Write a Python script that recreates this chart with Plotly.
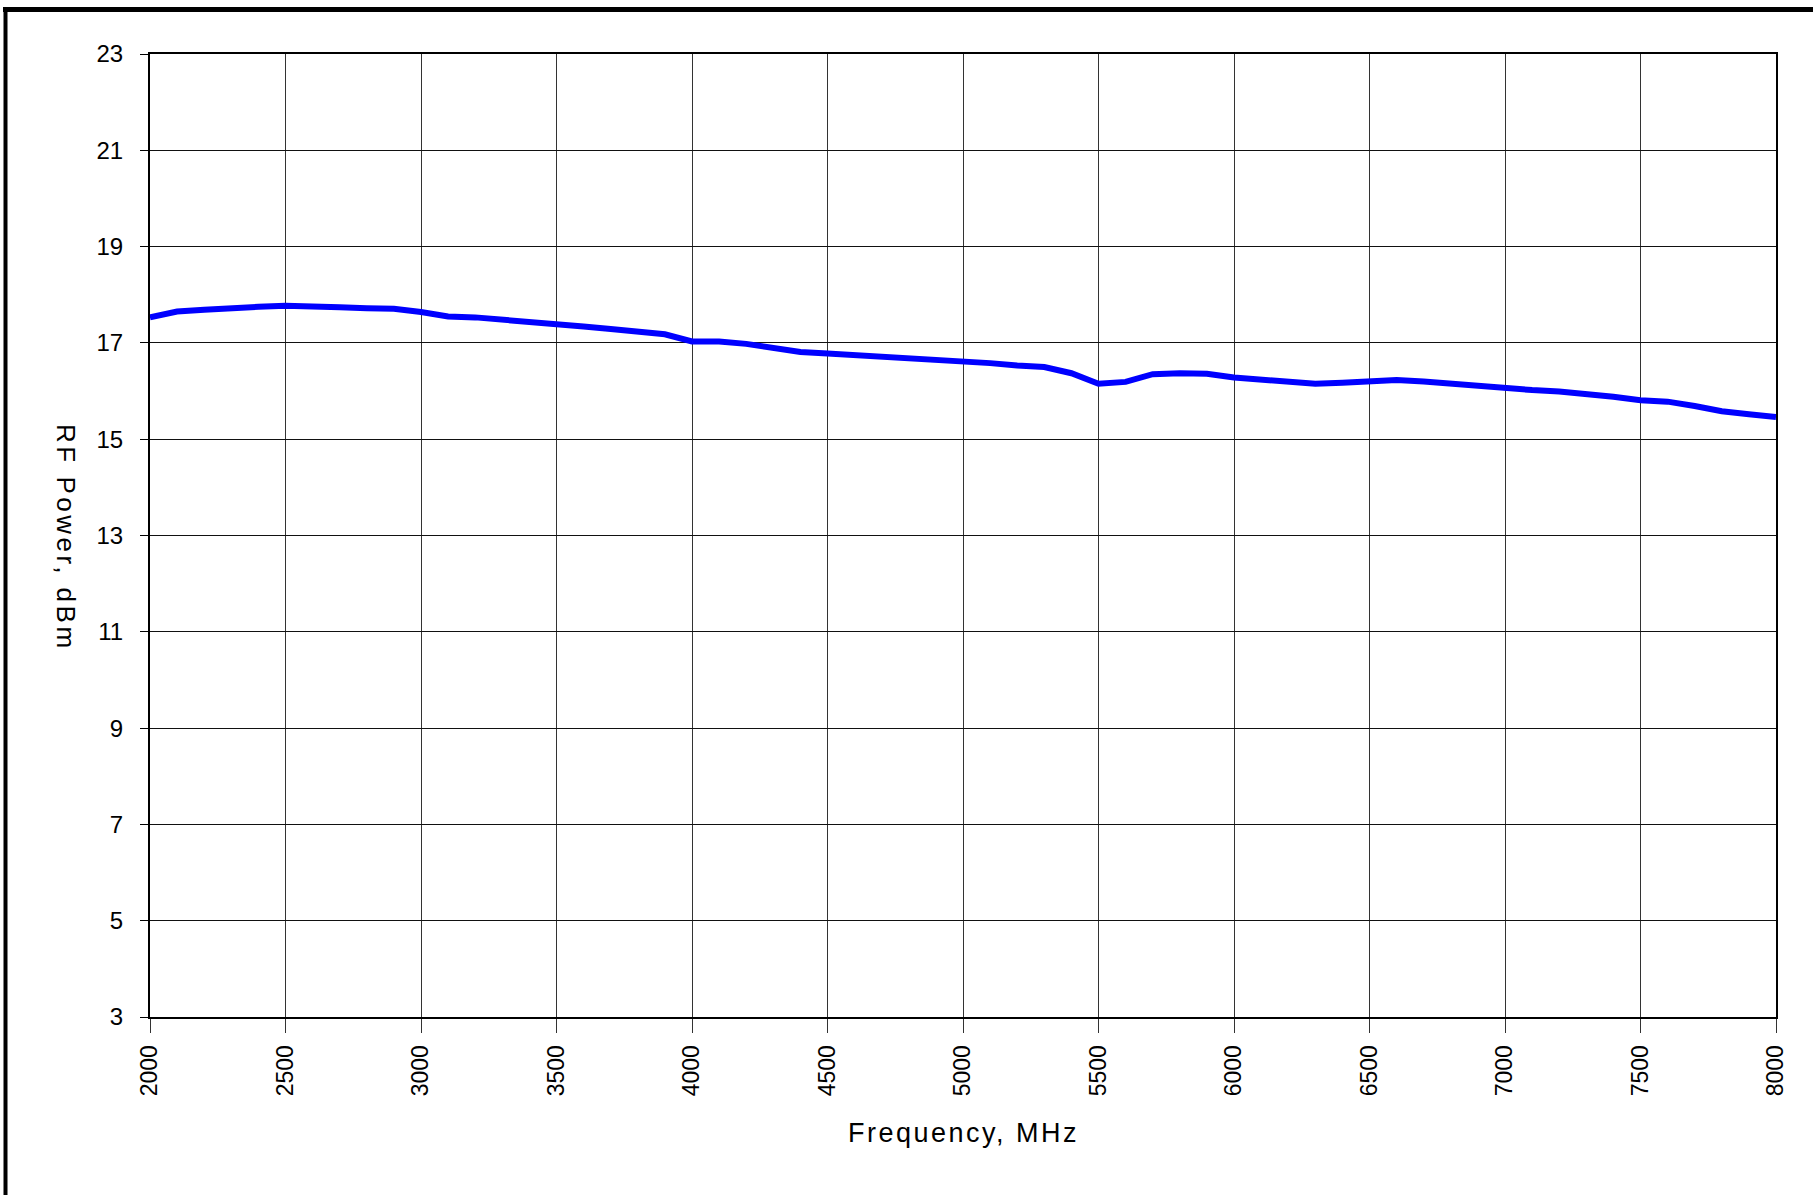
import plotly.graph_objects as go

freq_mhz = [2000, 2100, 2200, 2300, 2400, 2500, 2600, 2700, 2800, 2900,
            3000, 3100, 3200, 3300, 3400, 3500, 3600, 3700, 3800, 3900,
            4000, 4100, 4200, 4300, 4400, 4500, 4600, 4700, 4800, 4900,
            5000, 5100, 5200, 5300, 5400, 5500, 5600, 5700, 5800, 5900,
            6000, 6100, 6200, 6300, 6400, 6500, 6600, 6700, 6800, 6900,
            7000, 7100, 7200, 7300, 7400, 7500, 7600, 7700, 7800, 7900,
            8000]
rf_power_dbm = [17.53, 17.65, 17.69, 17.73, 17.75, 17.77, 17.77, 17.74, 17.72, 17.71,
                17.64, 17.55, 17.53, 17.49, 17.44, 17.39, 17.34, 17.29, 17.24, 17.18,
                17.03, 17.03, 16.98, 16.88, 16.81, 16.78, 16.75, 16.69, 16.67, 16.65,
                16.61, 16.58, 16.53, 16.50, 16.37, 16.15, 16.19, 16.35, 16.37, 16.36,
                16.28, 16.23, 16.19, 16.15, 16.17, 16.19, 16.23, 16.20, 16.15, 16.11,
                16.06, 16.02, 15.99, 15.95, 15.88, 15.81, 15.78, 15.69, 15.58, 15.52,
                15.46]
x_ticks = [2000, 2500, 3000, 3500, 4000, 4500, 5000, 5500, 6000, 6500, 7000, 7500, 8000]
y_ticks = [3, 5, 7, 9, 11, 13, 15, 17, 19, 21, 23]
x_title = "Frequency, MHz"
y_title = "RF Power, dBm"

W, H = 1813, 1195
ML, MR, MT, MB = 150, 37, 54, 178
PW, PH = W - ML - MR, H - MT - MB

def px(xp):
    return (xp - ML) / PW

def py(yp):
    return (H - MB - yp) / PH

fig = go.Figure()
fig.add_trace(go.Scatter(
    x=freq_mhz, y=rf_power_dbm, mode="lines",
    line=dict(color="#0000FF", width=6), showlegend=False,
))

FONT = "Liberation Sans, Arial, sans-serif"
fig.update_layout(
    width=W, height=H,
    margin=dict(l=ML, r=MR, t=MT, b=MB, pad=0),
    paper_bgcolor="white", plot_bgcolor="white",
    font=dict(family=FONT, color="black", size=24),
    xaxis=dict(
        range=[2000, 8000], tickvals=x_ticks, ticktext=[str(v) for v in x_ticks],
        tickangle=-90, ticks="outside", ticklen=14, tickcolor="#333", tickwidth=1,
        showgrid=True, gridcolor="#333", gridwidth=1,
        showline=True, linecolor="black", linewidth=2, mirror=True,
        zeroline=False, tickfont=dict(size=23, family=FONT),
        ticklabelstandoff=3,
    ),
    yaxis=dict(
        range=[3, 23], tickvals=y_ticks, ticktext=[str(v) for v in y_ticks],
        ticks="outside", ticklen=8, tickcolor="black", tickwidth=1,
        showgrid=True, gridcolor="#111", gridwidth=1,
        showline=True, linecolor="black", linewidth=2, mirror=True,
        zeroline=False, tickfont=dict(size=24, family=FONT),
        ticklabelstandoff=12,
    ),
    annotations=[
        dict(text='<span style="letter-spacing:2.5px">' + x_title + '</span>',
             xref="paper", yref="paper", x=px(963), y=py(1133),
             showarrow=False, font=dict(size=27, family=FONT),
             xanchor="center", yanchor="middle"),
        dict(text='<span style="letter-spacing:3.5px">' + y_title + '</span>',
             xref="paper", yref="paper", x=px(66), y=py(538),
             showarrow=False, font=dict(size=26, family=FONT), textangle=90,
             xanchor="center", yanchor="middle"),
    ],
    shapes=[
        dict(type="line", xref="paper", yref="paper",
             x0=px(3), x1=px(W + 20), y0=py(9.5), y1=py(9.5),
             line=dict(color="black", width=5)),
        dict(type="line", xref="paper", yref="paper",
             x0=px(5.5), x1=px(5.5), y0=py(7), y1=py(H + 20),
             line=dict(color="black", width=4)),
    ],
)

fig.write_html(
    "out.html",
    config={"displayModeBar": False},
    post_script="document.body.style.margin='0';document.body.style.overflow='hidden';",
)
